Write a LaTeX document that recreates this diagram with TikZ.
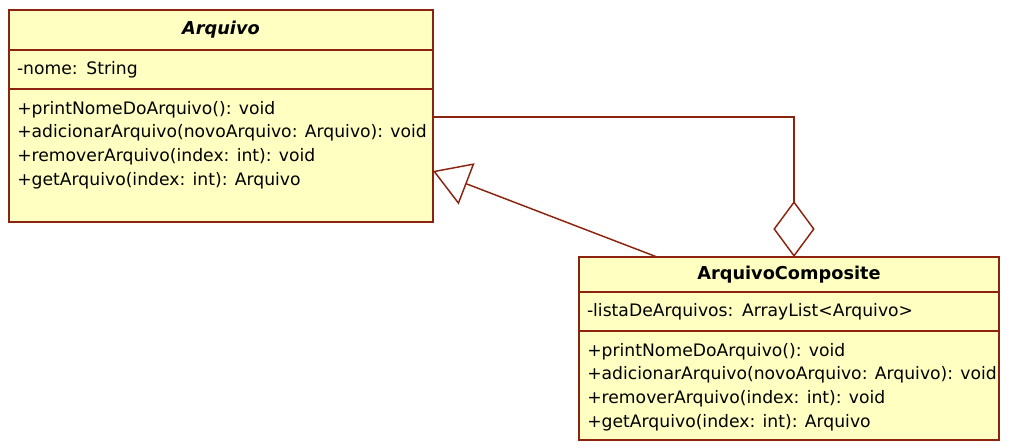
\documentclass[tikz,border=0pt]{standalone}
\usepackage{fontspec}
\setmainfont{DejaVu Sans}
\usetikzlibrary{arrows.meta}
\definecolor{umlline}{RGB}{140,35,15}
\definecolor{umlfill}{RGB}{255,255,194}

\begin{document}
\begin{tikzpicture}[x=0.75pt,y=-0.75pt,
  part/.style={draw=umlline,line width=1.2pt,fill=umlfill,anchor=north west,inner sep=0pt,outer sep=0pt,
    font=\fontsize{12.9}{17.8}\selectfont},
  field/.style={part,inner xsep=6pt,align=left},
  ops/.style={anchor=north west,inner sep=0pt,align=left,font=\fontsize{12.9}{17.8}\selectfont},
  rel/.style={draw=umlline,line width=1.1pt}]
\useasboundingbox (0,0) rectangle (1013,447);

% classe Arquivo
\node[part,minimum width=318pt,minimum height=30pt,font=\fontsize{13.3}{15}\selectfont\bfseries\itshape] (aName) at (9,10) {Arquivo};
\node[field,text width=306pt,minimum height=29.25pt] (aAttr) at (aName.south west) {-nome: String};
\node[part,minimum width=318pt,minimum height=99.75pt] (aOps) at (aAttr.south west) {};
\node[ops] (aOpsText) at ([xshift=6pt,yshift=-8.8pt]aOps.north west) {+printNomeDoArquivo(): void\\
+adicionarArquivo(novoArquivo: Arquivo): void\\
+removerArquivo(index: int): void\\
+getArquivo(index: int): Arquivo};

% classe ArquivoComposite
\node[part,minimum width=315pt,minimum height=26.25pt,font=\fontsize{13.3}{15}\selectfont\bfseries] (cName) at (579,257) {ArquivoComposite};
\node[field,text width=303pt,minimum height=29.25pt] (cAttr) at (cName.south west) {-listaDeArquivos: ArrayList<Arquivo>};
\node[part,minimum width=315pt,minimum height=81.75pt] (cOps) at (cAttr.south west) {};
\node[ops] (cOpsText) at ([xshift=6pt,yshift=-8.8pt]cOps.north west) {+printNomeDoArquivo(): void\\
+adicionarArquivo(novoArquivo: Arquivo): void\\
+removerArquivo(index: int): void\\
+getArquivo(index: int): Arquivo};

% relacoes
\draw[rel,{Diamond[open,length=42pt,width=31pt]}-] (cName.north -| 794,0) |- (aOps.east |- 0,117);
\draw[rel,-{Triangle[open,length=27pt,width=33pt]}] (cName.north -| 657,0) -- (aOps.east |- 0,171);

\end{tikzpicture}
\end{document}
